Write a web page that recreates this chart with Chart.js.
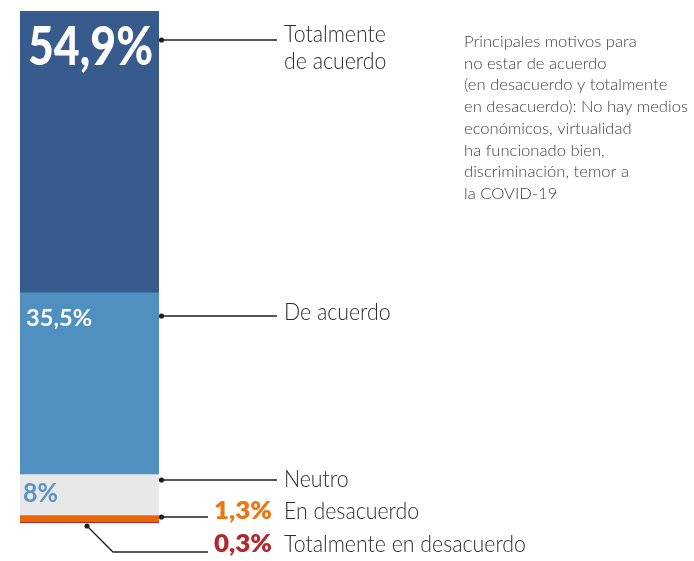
<!DOCTYPE html>
<html lang="es">
<head>
<meta charset="utf-8">
<title>Totalmente de acuerdo – En desacuerdo</title>
<script src="https://cdn.jsdelivr.net/npm/chart.js@4"></script>
<style>
  html, body { margin: 0; padding: 0; background: #fff; }
  #chart { display: block; }
</style>
</head>
<body>
<canvas id="chart" width="694" height="561"></canvas>
<script>
/* ========= Data ========= */
const categories   = ['Totalmente de acuerdo', 'De acuerdo', 'Neutro', 'En desacuerdo', 'Totalmente en desacuerdo'];
const categoryRows = [['Totalmente', 'de acuerdo'], ['De acuerdo'], ['Neutro'], ['En desacuerdo'], ['Totalmente en desacuerdo']];
const shares       = [54.9, 35.5, 8, 1.3, 0.3];
const shareLabels  = ['54,9%', '35,5%', '8%', '1,3%', '0,3%'];
const barColors    = ['#365b8c', '#5090c0', '#e8e8e8', '#ec6608', '#b3262b'];
const valueColors  = ['#ffffff', '#ffffff', '#5b93c5', '#ee7512', '#b5272d'];
const noteLines = [
  'Principales motivos para',
  'no estar de acuerdo',
  '(en desacuerdo y totalmente',
  'en desacuerdo): No hay medios',
  'económicos, virtualidad',
  'ha funcionado bien,',
  'discriminación, temor a',
  'la COVID-19'
];

const FONT = 'Lato, "Open Sans", sans-serif';
const INK  = '#2b2b2b';

// draw text squeezed (or stretched) horizontally to a given width
function fitText(ctx, text, x, y, font, color, width) {
  ctx.save();
  ctx.font = font;
  ctx.fillStyle = color;
  ctx.textBaseline = 'alphabetic';
  ctx.textAlign = 'left';
  const w = ctx.measureText(text).width;
  const sx = width ? width / w : 1;
  ctx.translate(x, y);
  ctx.scale(sx, 1);
  ctx.fillText(text, 0, 0);
  ctx.restore();
}

function dot(ctx, x, y) {
  ctx.beginPath();
  ctx.arc(x, y, 2.6, 0, Math.PI * 2);
  ctx.fill();
}

/* ========= Labels, leaders and note ========= */
const labelPlugin = {
  id: 'stackLabels',
  afterDatasetsDraw(chart) {
    const ctx = chart.ctx;
    const bars = shares.map((_, i) => chart.getDatasetMeta(i).data[0]);
    const top = b => Math.min(b.y, b.base);
    const right = bars[0].x + bars[0].width / 2;

    // values inside the bar
    fitText(ctx, shareLabels[0], 28, top(bars[0]) + 54, '900 54px ' + FONT, valueColors[0], 125);
    fitText(ctx, shareLabels[1], 26, top(bars[1]) + 34, 'bold 23px ' + FONT, valueColors[1], 66);
    fitText(ctx, shareLabels[2], 23, top(bars[2]) + 28, 'bold 27px ' + FONT, valueColors[2], 35);

    // leader lines
    ctx.save();
    ctx.strokeStyle = '#1e1e1e';
    ctx.fillStyle = '#1e1e1e';
    ctx.lineWidth = 1.3;
    const dx = right + 2.5;
    [[40, 277], [316, 277], [480, 277], [517, 208]].forEach(([y, x2]) => {
      ctx.beginPath();
      ctx.moveTo(dx, y);
      ctx.lineTo(x2, y);
      ctx.stroke();
      dot(ctx, dx, y);
    });
    const last = bars[4];
    const lx = last.x - last.width / 2 + 67;
    const ly = Math.max(last.y, last.base) + 3;
    ctx.beginPath();
    ctx.moveTo(lx, ly);
    ctx.lineTo(113, 552);
    ctx.lineTo(208, 552);
    ctx.stroke();
    dot(ctx, lx, ly);
    ctx.restore();

    // category names on the right
    const catFont = '300 23px ' + FONT;
    ctx.font = catFont;
    const sx = 242 / ctx.measureText(categoryRows[4][0]).width;
    const baselines = [[42, 69], [320], [487], [519], [552]];
    categoryRows.forEach((rows, i) => {
      rows.forEach((row, j) => {
        ctx.font = catFont;
        const w = ctx.measureText(row).width * sx;
        fitText(ctx, row, 284, baselines[i][j], catFont, INK, w);
      });
    });

    // small percentages next to the names
    fitText(ctx, shareLabels[3], 214, 519, '800 24px ' + FONT, valueColors[3], 58);
    fitText(ctx, shareLabels[4], 214, 552, '800 24px ' + FONT, valueColors[4], 58);

    // side note
    const noteFont = '300 15.5px ' + FONT;
    ctx.font = noteFont;
    const nx = 224 / ctx.measureText(noteLines[3]).width;
    noteLines.forEach((line, i) => {
      ctx.font = noteFont;
      const w = ctx.measureText(line).width * nx;
      fitText(ctx, line, 464, 47 + i * 21.7, noteFont, '#444444', w);
    });
  }
};

/* ========= Chart ========= */
new Chart(document.getElementById('chart'), {
  type: 'bar',
  data: {
    labels: [''],
    datasets: categories.map((name, i) => ({
      label: name,
      data: [shares[i]],
      backgroundColor: barColors[i],
      borderWidth: 0,
      barPercentage: 1,
      categoryPercentage: 1
    }))
  },
  options: {
    responsive: false,
    animation: false,
    layout: { padding: { left: 20, right: 535, top: 11, bottom: 38 } },
    scales: {
      x: { stacked: true, display: false },
      y: { stacked: true, display: false, reverse: true, min: 0, max: 100 }
    },
    plugins: {
      legend: { display: false },
      tooltip: { enabled: false }
    }
  },
  plugins: [labelPlugin]
});
</script>
</body>
</html>
